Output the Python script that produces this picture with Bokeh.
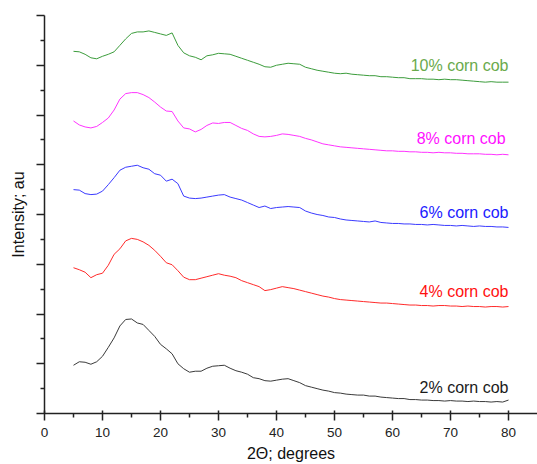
from bokeh.plotting import figure
from bokeh.models import FixedTicker, Range1d, ColumnDataSource, CustomJSTickFormatter
from bokeh.core.properties import value
from bokeh.embed import file_html
from bokeh.resources import INLINE

# 2-theta sample positions (degrees)
two_theta = list(range(5, 81))

# Stacked (offset) intensities, arbitrary units
cob_2 = [0.97, 1.04, 1.03, 0.99, 1.04, 1.15, 1.33, 1.52, 1.76, 1.89,
         1.90, 1.82, 1.79, 1.67, 1.55, 1.39, 1.30, 1.20, 1.00, 0.90,
         0.83, 0.85, 0.85, 0.91, 0.95, 0.96, 0.97, 0.91, 0.86, 0.83,
         0.79, 0.72, 0.70, 0.66, 0.65, 0.67, 0.69, 0.70, 0.66, 0.62,
         0.56, 0.53, 0.50, 0.47, 0.45, 0.42, 0.41, 0.39, 0.38, 0.37,
         0.37, 0.35, 0.35, 0.33, 0.32, 0.31, 0.30, 0.30, 0.28, 0.28,
         0.27, 0.27, 0.26, 0.26, 0.25, 0.26, 0.25, 0.25, 0.24, 0.25,
         0.24, 0.24, 0.23, 0.24, 0.23, 0.27]
cob_4 = [2.93, 2.89, 2.84, 2.73, 2.79, 2.82, 2.98, 3.20, 3.31, 3.47,
         3.52, 3.50, 3.45, 3.38, 3.28, 3.16, 3.03, 2.99, 2.87, 2.74,
         2.69, 2.69, 2.72, 2.75, 2.78, 2.81, 2.78, 2.76, 2.73, 2.67,
         2.63, 2.59, 2.55, 2.47, 2.49, 2.52, 2.55, 2.53, 2.51, 2.48,
         2.45, 2.42, 2.39, 2.36, 2.34, 2.31, 2.29, 2.28, 2.27, 2.26,
         2.25, 2.24, 2.23, 2.22, 2.22, 2.21, 2.20, 2.19, 2.18, 2.18,
         2.17, 2.17, 2.16, 2.17, 2.17, 2.16, 2.16, 2.15, 2.16, 2.15,
         2.15, 2.14, 2.15, 2.15, 2.14, 2.15]
cob_6 = [4.50, 4.49, 4.42, 4.40, 4.41, 4.47, 4.60, 4.74, 4.89, 4.95,
         4.97, 4.99, 4.94, 4.91, 4.82, 4.79, 4.67, 4.71, 4.62, 4.37,
         4.33, 4.32, 4.33, 4.35, 4.37, 4.39, 4.40, 4.35, 4.32, 4.29,
         4.24, 4.19, 4.14, 4.17, 4.12, 4.14, 4.15, 4.16, 4.15, 4.14,
         4.07, 4.03, 4.00, 3.98, 3.95, 3.94, 3.91, 3.89, 3.88, 3.87,
         3.86, 3.85, 3.87, 3.84, 3.83, 3.82, 3.82, 3.81, 3.81, 3.80,
         3.80, 3.79, 3.80, 3.79, 3.78, 3.78, 3.77, 3.78, 3.77, 3.76,
         3.77, 3.76, 3.76, 3.75, 3.75, 3.74]
cob_8 = [5.88, 5.80, 5.76, 5.74, 5.77, 5.85, 5.94, 6.10, 6.32, 6.43,
         6.45, 6.45, 6.41, 6.35, 6.26, 6.16, 6.08, 6.07, 5.88, 5.74,
         5.72, 5.66, 5.71, 5.79, 5.84, 5.83, 5.85, 5.85, 5.79, 5.73,
         5.69, 5.62, 5.57, 5.56, 5.57, 5.59, 5.62, 5.61, 5.59, 5.57,
         5.53, 5.50, 5.46, 5.42, 5.40, 5.38, 5.36, 5.35, 5.34, 5.33,
         5.32, 5.31, 5.30, 5.29, 5.28, 5.28, 5.27, 5.27, 5.26, 5.26,
         5.25, 5.25, 5.24, 5.25, 5.24, 5.24, 5.23, 5.23, 5.22, 5.22,
         5.22, 5.21, 5.21, 5.20, 5.21, 5.20]
cob_10 = [7.28, 7.27, 7.22, 7.15, 7.13, 7.18, 7.22, 7.27, 7.40, 7.53,
          7.64, 7.67, 7.67, 7.69, 7.66, 7.63, 7.60, 7.65, 7.40, 7.25,
          7.19, 7.16, 7.11, 7.19, 7.21, 7.24, 7.23, 7.22, 7.18, 7.14,
          7.10, 7.06, 7.02, 6.97, 6.96, 7.00, 7.02, 7.04, 7.03, 7.02,
          6.96, 6.93, 6.90, 6.88, 6.86, 6.84, 6.83, 6.84, 6.82, 6.81,
          6.80, 6.79, 6.79, 6.77, 6.77, 6.76, 6.75, 6.75, 6.73, 6.73,
          6.73, 6.72, 6.72, 6.71, 6.72, 6.71, 6.71, 6.70, 6.69, 6.68,
          6.67, 6.66, 6.67, 6.66, 6.66, 6.66]

series_names = ["2% corn cob", "4% corn cob", "6% corn cob", "8% corn cob", "10% corn cob"]
series_values = [cob_2, cob_4, cob_6, cob_8, cob_10]

x_ticks = [0, 10, 20, 30, 40, 50, 60, 70, 80]
x_minor = [5, 15, 25, 35, 45, 55, 65, 75]
y_ticks = [0, 1, 2, 3, 4, 5, 6, 7, 8]
y_minor = [0.5, 1.5, 2.5, 3.5, 4.5, 5.5, 6.5, 7.5]

line_colors = ["#3a3a3a", "#ff2a2a", "#3a3aff", "#ff33ff", "#3c9c3c"]
text_colors = ["#1a1a1a", "#ff1010", "#2020ff", "#ff10ff", "#6aaa4c"]
label_x = [80, 80, 80, 79.5, 80]
label_y = [0.53, 2.45, 4.05, 5.52, 6.99]

FONT = "Liberation Sans"

p = figure(width=537, height=464, output_backend="svg", toolbar_location=None,
           x_range=Range1d(0, 85), y_range=Range1d(0, 8),
           min_border_left=44, min_border_right=0, min_border_top=15,
           min_border_bottom=0)
p.xgrid.visible = False
p.ygrid.visible = False
p.outline_line_color = None
p.background_fill_color = "white"
p.border_fill_color = "white"

for vals, col in zip(series_values, line_colors):
    p.line(two_theta, vals, line_color=col, line_width=1)

lab_src = ColumnDataSource(dict(x=label_x, y=label_y, t=series_names, c=text_colors))
p.text(x="x", y="y", text="t", text_color="c", source=lab_src,
       text_align="right", text_baseline="middle",
       text_font=value(FONT), text_font_size="16px")

xa = p.xaxis[0]
xa.ticker = FixedTicker(ticks=x_ticks, minor_ticks=x_minor)
xa.axis_label = "2\u0398; degrees"
xa.axis_label_text_font = FONT
xa.axis_label_text_font_size = "16px"
xa.axis_label_text_font_style = "normal"
xa.axis_label_text_color = "#111111"
xa.axis_label_standoff = 5
xa.major_label_text_font = FONT
xa.major_label_text_font_size = "13.5px"
xa.major_label_text_color = "#222222"
xa.major_label_standoff = 7
xa.axis_line_width = 1.5
xa.axis_line_color = "#222222"
xa.major_tick_in = 3
xa.major_tick_out = 7
xa.minor_tick_in = 0
xa.minor_tick_out = 4
xa.major_tick_line_width = 1.5
xa.minor_tick_line_width = 1.5
xa.major_tick_line_color = "#222222"
xa.minor_tick_line_color = "#222222"

ya = p.yaxis[0]
ya.ticker = FixedTicker(ticks=y_ticks, minor_ticks=y_minor)
ya.formatter = CustomJSTickFormatter(code="return ''")
ya.major_label_text_font_size = "0px"
ya.major_label_standoff = 0
ya.axis_label = "Intensity; au"
ya.axis_label_text_font = FONT
ya.axis_label_text_font_size = "16px"
ya.axis_label_text_font_style = "normal"
ya.axis_label_text_color = "#111111"
ya.axis_label_standoff = 10
ya.axis_line_width = 1.5
ya.axis_line_color = "#222222"
ya.major_tick_in = 0
ya.major_tick_out = 8
ya.minor_tick_in = 0
ya.minor_tick_out = 4
ya.major_tick_line_width = 1.5
ya.minor_tick_line_width = 1.5
ya.major_tick_line_color = "#222222"
ya.minor_tick_line_color = "#222222"

open("out.html", "w").write(file_html(p, INLINE))
